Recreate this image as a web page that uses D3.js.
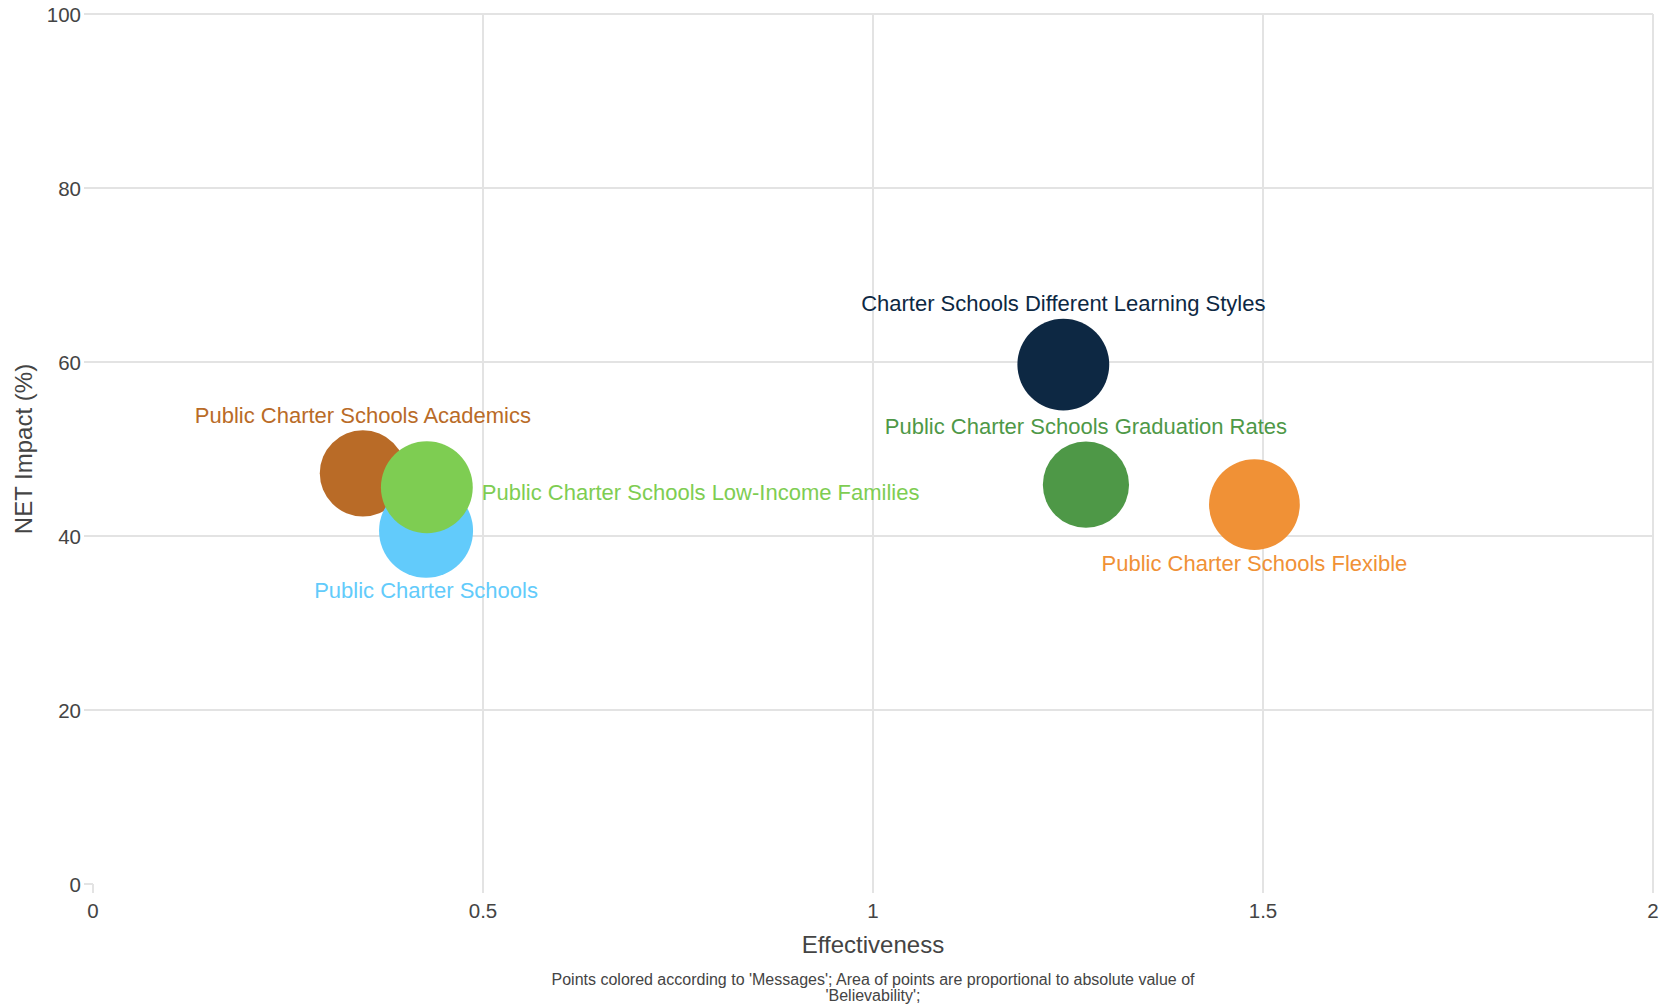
<!DOCTYPE html>
<html>
<head>
<meta charset="utf-8">
<script src="https://cdn.jsdelivr.net/npm/d3@7"></script>
<style>
  html, body { margin: 0; padding: 0; background: #fff; }
  svg { display: block; font-family: "Liberation Sans", Arial, sans-serif; }
</style>
</head>
<body>
<svg id="chart" width="1660" height="1005"></svg>
<script>
// ---- data ----
const messages = [
  "Public Charter Schools Academics",
  "Public Charter Schools",
  "Public Charter Schools Low-Income Families",
  "Charter Schools Different Learning Styles",
  "Public Charter Schools Graduation Rates",
  "Public Charter Schools Flexible"
];
const effectiveness = [0.346, 0.427, 0.428, 1.244, 1.273, 1.489];
const netImpact     = [47.2, 40.6, 45.6, 59.7, 45.9, 43.6];
const believability = [37, 44, 42, 42, 37, 41];
const colors = ["#b96b27", "#62cbfb", "#7ecd52", "#0d2843", "#4e9847", "#f09136"];
const labelPos = ["top", "bottom", "right", "top", "top", "bottom"];
const xTicks = [0, 0.5, 1, 1.5, 2];
const yTicks = [0, 20, 40, 60, 80, 100];
const xTitle = "Effectiveness";
const yTitle = "NET Impact (%)";
const note = ["Points colored according to 'Messages'; Area of points are proportional to absolute value of", "'Believability';"];

const points = messages.map((m, i) => ({
  name: m, x: effectiveness[i], y: netImpact[i], b: believability[i], color: colors[i], pos: labelPos[i]
}));

// ---- layout ----
const svg = d3.select("#chart");
const L = 93, R = 1653, T = 14, B = 884;
const x = d3.scaleLinear().domain([0, 2]).range([L, R]);
const y = d3.scaleLinear().domain([0, 100]).range([B, T]);
const r = d3.scaleSqrt().domain([0, 44]).range([0, 47]);

const gridColor = "#e3e3e3";
const textColor = "#444";

svg.append("g").selectAll("line").data(xTicks.filter(d => d !== 0)).join("line")
  .attr("x1", d => x(d)).attr("x2", d => x(d))
  .attr("y1", T).attr("y2", B + 9)
  .attr("stroke", gridColor).attr("stroke-width", 2);
svg.append("g").selectAll("line").data(yTicks.filter(d => d !== 0)).join("line")
  .attr("x1", L - 9).attr("x2", R)
  .attr("y1", d => y(d)).attr("y2", d => y(d))
  .attr("stroke", gridColor).attr("stroke-width", 2);
svg.append("line").attr("x1", L - 9).attr("x2", L).attr("y1", y(0)).attr("y2", y(0))
  .attr("stroke", gridColor).attr("stroke-width", 2);
svg.append("line").attr("x1", x(0)).attr("x2", x(0)).attr("y1", B).attr("y2", B + 9)
  .attr("stroke", gridColor).attr("stroke-width", 2);

svg.append("g").selectAll("text").data(xTicks).join("text")
  .attr("x", d => x(d)).attr("y", B + 26)
  .attr("text-anchor", "middle").attr("dominant-baseline", "central")
  .attr("font-size", 20.5).attr("fill", textColor)
  .text(d => d3.format("~g")(d));
svg.append("g").selectAll("text").data(yTicks).join("text")
  .attr("x", L - 12).attr("y", d => y(d))
  .attr("text-anchor", "end").attr("dominant-baseline", "central")
  .attr("font-size", 20.5).attr("fill", textColor)
  .text(d => d);

svg.append("text").attr("x", (L + R) / 2).attr("y", 944)
  .attr("text-anchor", "middle").attr("dominant-baseline", "central")
  .attr("font-size", 24).attr("fill", textColor).text(xTitle);
svg.append("text").attr("transform", `translate(23,${(T + B) / 2}) rotate(-90)`)
  .attr("text-anchor", "middle").attr("dominant-baseline", "central")
  .attr("font-size", 24).attr("fill", textColor).text(yTitle);

svg.append("g").selectAll("text").data(note).join("text")
  .attr("x", (L + R) / 2).attr("y", (d, i) => 979 + i * 16)
  .attr("text-anchor", "middle").attr("dominant-baseline", "central")
  .attr("font-size", 16).attr("fill", textColor).text(d => d);

svg.append("g").selectAll("circle").data(points).join("circle")
  .attr("cx", d => x(d.x)).attr("cy", d => y(d.y)).attr("r", d => r(d.b))
  .attr("fill", d => d.color);

svg.append("g").selectAll("text").data(points).join("text")
  .attr("x", d => d.pos === "right" ? x(d.x) + r(d.b) + 9 : x(d.x))
  .attr("y", d => d.pos === "top" ? y(d.y) - r(d.b) - 15 : d.pos === "bottom" ? y(d.y) + r(d.b) + 13 : y(d.y) + 5)
  .attr("text-anchor", d => d.pos === "right" ? "start" : "middle")
  .attr("dominant-baseline", "central")
  .attr("font-size", 22).attr("fill", d => d.color)
  .text(d => d.name);
</script>
</body>
</html>
